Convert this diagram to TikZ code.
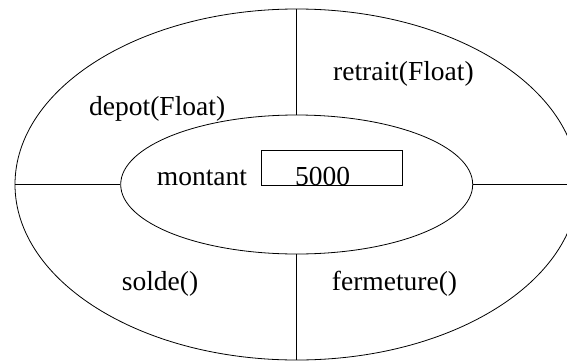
\documentclass[tikz,border=0pt]{standalone}
\usepackage{fontspec}
\setmainfont{Liberation Serif}
\usetikzlibrary{shapes.geometric}
\begin{document}
\begin{tikzpicture}[x=1pt,y=-1pt,
  ring/.style={draw,ellipse,inner sep=0pt,line width=0.8pt},
  sep/.style={line width=0.8pt},
  lbl/.style={anchor=base west,inner sep=0pt,font=\fontsize{27.5}{30}\selectfont},
  valbox/.style={draw,line width=0.8pt,inner sep=0pt,minimum width=141pt,minimum height=35pt}]
\useasboundingbox (0,0) rectangle (567,362);
\clip (0,0) rectangle (567,362);
\node[ring,minimum width=563.4pt,minimum height=351pt] (outer) at (296.7,184.5) {};
\node[ring,minimum width=352pt,minimum height=139pt] (inner) at (296.7,184.5) {};
\draw[sep] (outer.north) -- (inner.north);
\draw[sep] (inner.south) -- (outer.south);
\draw[sep] (outer.west) -- (inner.west);
\draw[sep] (inner.east) -- (outer.east);
\node[valbox] (box) at (331.5,167.5) {};
\node[lbl] (depot) at (89,115) {depot(Float)};
\node[lbl] (retrait) at (333,80) {retrait(Float)};
\node[lbl] (solde) at (121.7,290) {solde()};
\node[lbl] (fermeture) at (331.7,290) {fermeture()};
\node[lbl] (montant) at (156.7,185) {montant};
\node[lbl] (val) at (295,185) {5000};
\end{tikzpicture}
\end{document}
